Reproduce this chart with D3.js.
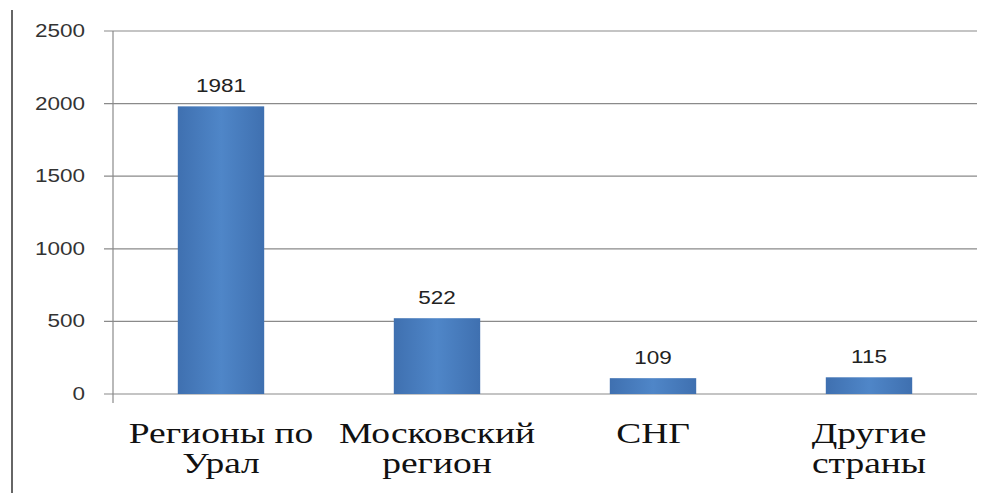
<!DOCTYPE html>
<html>
<head>
<meta charset="utf-8">
<script src="https://cdn.jsdelivr.net/npm/d3@7"></script>
<style>
  body { margin: 0; background: #fff; }
  svg { display: block; }
</style>
</head>
<body>
<svg id="chart" width="985" height="493"></svg>
<script>
// Data
const categories = [["Регионы по", "Урал"], ["Московский", "регион"], ["СНГ"], ["Другие", "страны"]];
const values = [1981, 522, 109, 115];
const yTicks = [0, 500, 1000, 1500, 2000, 2500];

const margin = { top: 31, right: 8, bottom: 99, left: 113 };
const width = 985 - margin.left - margin.right;
const height = 493 - margin.top - margin.bottom;
const stretch = 1.25; // the picture is stretched horizontally

const svg = d3.select("#chart");

// left frame line
svg.append("line")
    .attr("x1", 12).attr("x2", 12)
    .attr("y1", 10).attr("y2", 493)
    .attr("stroke", "#666").attr("stroke-width", 2);

const g = svg.append("g")
    .attr("transform", `translate(${margin.left},${margin.top})`);

const x = d3.scaleBand()
    .domain(d3.range(categories.length))
    .range([0, width])
    .paddingInner(0.6)
    .paddingOuter(0.3);

const y = d3.scaleLinear()
    .domain([0, 2500])
    .range([height, 0]);

// gradient for the bars
const grad = svg.append("defs").append("linearGradient")
    .attr("id", "barGrad")
    .attr("x1", "0%").attr("x2", "100%").attr("y1", "0%").attr("y2", "0%");
grad.append("stop").attr("offset", "0%").attr("stop-color", "#3f70b0");
grad.append("stop").attr("offset", "50%").attr("stop-color", "#4f86c8");
grad.append("stop").attr("offset", "100%").attr("stop-color", "#3f70b0");

// gridlines + ticks
g.selectAll(".grid")
    .data(yTicks)
    .enter().append("line")
    .attr("class", "grid")
    .attr("x1", -9).attr("x2", width)
    .attr("y1", d => y(d)).attr("y2", d => y(d))
    .attr("stroke", "#8a8a8a").attr("stroke-width", 1.2);

// y axis line
g.append("line")
    .attr("x1", 0).attr("x2", 0)
    .attr("y1", 0).attr("y2", height + 9)
    .attr("stroke", "#8a8a8a").attr("stroke-width", 1.2);

// y tick labels
g.selectAll(".ytick")
    .data(yTicks)
    .enter().append("text")
    .attr("class", "ytick")
    .attr("transform", d => `translate(-28,${y(d) + 6}) scale(${stretch},1)`)
    .attr("text-anchor", "end")
    .attr("font-family", "Liberation Sans, Arial, sans-serif")
    .attr("font-size", "18px")
    .attr("fill", "#333")
    .text(d => d);

// bars
g.selectAll(".bar")
    .data(values)
    .enter().append("rect")
    .attr("class", "bar")
    .attr("x", (d, i) => x(i))
    .attr("y", d => y(d))
    .attr("width", x.bandwidth())
    .attr("height", d => height - y(d))
    .attr("fill", "url(#barGrad)");

// value labels
g.selectAll(".val")
    .data(values)
    .enter().append("text")
    .attr("class", "val")
    .attr("transform", (d, i) => `translate(${x(i) + x.bandwidth() / 2},${y(d) - 14}) scale(${stretch},1)`)
    .attr("text-anchor", "middle")
    .attr("font-family", "Liberation Sans, Arial, sans-serif")
    .attr("font-size", "18px")
    .attr("fill", "#222")
    .text(d => d);

// category labels
const cat = g.selectAll(".cat")
    .data(categories)
    .enter().append("text")
    .attr("class", "cat")
    .attr("transform", (d, i) => `translate(${x(i) + x.bandwidth() / 2},${height + 49}) scale(${stretch},1)`)
    .attr("text-anchor", "middle")
    .attr("font-family", "Liberation Serif, Times New Roman, serif")
    .attr("font-size", "30px")
    .attr("fill", "#111");

cat.selectAll("tspan")
    .data(d => d)
    .enter().append("tspan")
    .attr("x", 0)
    .attr("dy", (d, i) => i === 0 ? 0 : 30)
    .text(d => d);
</script>
</body>
</html>
